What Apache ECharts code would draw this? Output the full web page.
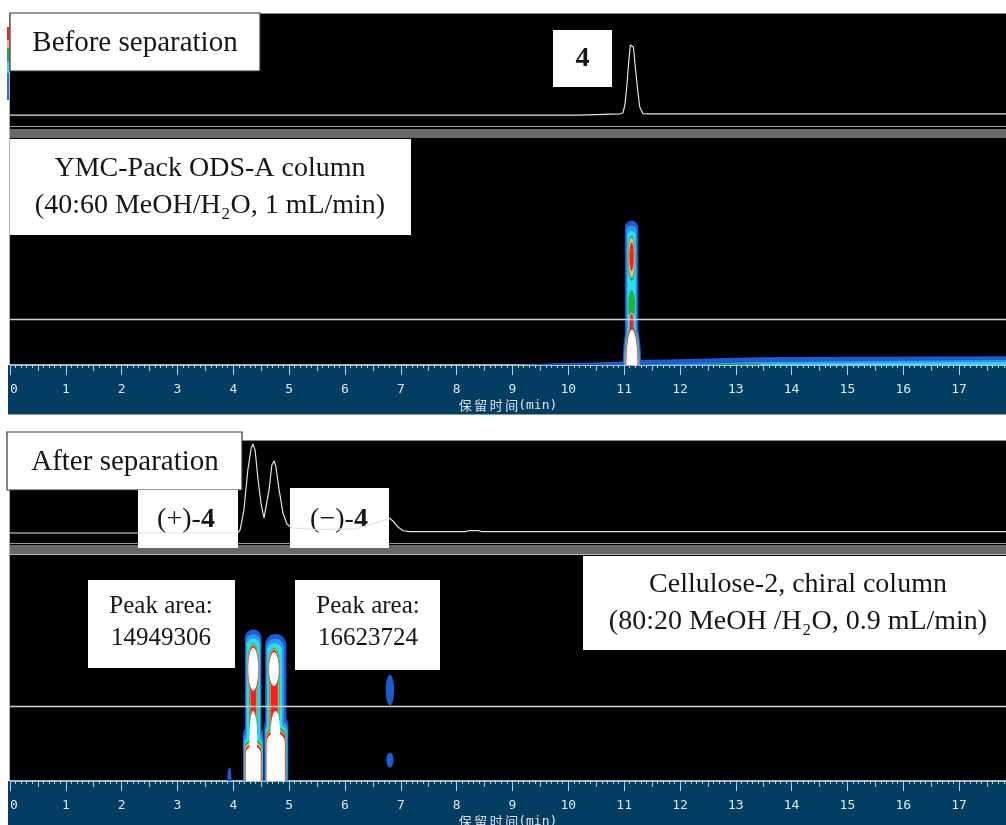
<!DOCTYPE html>
<html><head><meta charset="utf-8">
<script src="https://cdn.jsdelivr.net/npm/echarts@6/dist/echarts.min.js"></script>
<style>html,body{margin:0;padding:0;background:#fff}#c{width:1006px;height:825px}</style>
</head><body><div id="c"></div>
<script>
// ---------- data ----------
const XMAX = 17.84;                       // retention time range shown (min)
// chromatogram before separation (ODS-A): [time (min), signal]
const beforeTrace = [[0,-0.5],[10.2,-0.5],[10.22,0.6],[10.92,0.6],[10.978,1.3],[11.014,8.3],[11.05,25.8],[11.085,47.8],[11.112,60.9],[11.139,62.2],[11.166,59.2],[11.202,40.8],[11.246,19.7],[11.28,6.5],[11.336,0.8],[11.46,0.5],[17.84,0.5]];
// chromatogram after separation (Cellulose-2)
const afterTrace = [[0,-0.3],[4.08,-0.3],[4.12,2.6],[4.19,22],[4.26,60.9],[4.32,82.2],[4.35,86.1],[4.39,80.3],[4.44,53.1],[4.5,26.9],[4.55,14.3],[4.58,15.2],[4.64,41.5],[4.69,65.7],[4.73,69.6],[4.76,64.8],[4.82,41.5],[4.89,19.1],[4.96,8.4],[5.05,4.6],[5.5,3],[6.2,4],[6.6,10],[6.79,14.3],[6.86,11.4],[6.95,5.5],[7.04,1.9],[7.16,1.0],[8.15,1.0],[8.24,2.1],[8.38,2.1],[8.45,1.0],[17.84,1.0]];
// contour (time x wavelength) blobs: [time, nm low, nm high, half width (min), level, shape 0=ellipse 1=capsule]
const odsBlobs = [
  [11.134,185,327,0.12,1,1],[11.14,160,242,0.165,1,0],
  [11.134,185,323,0.092,2,1],[11.14,162,238,0.148,2,0],
  [11.134,185,318,0.074,3,1],[11.14,164,235,0.135,3,0],
  [11.134,274,314,0.066,4,0],[11.134,240,266,0.06,4,0],[11.14,166,234,0.125,4,0],
  [11.134,277,312,0.056,5,0],[11.134,236,246,0.046,5,0],[11.14,168,233,0.118,5,0],
  [11.134,283,308,0.04,6,0],[11.134,229,245,0.036,6,0],[11.14,169,233,0.112,6,0],
  [11.14,171,231,0.1,7,0]
];
// baseline drift bands of the ODS contour: [time, nm]
const odsDrift1 = [[9.0,200],[9.3,200.5],[9.72,201.5],[10.26,202],[10.89,202.9],[11.28,204.4],[12.03,205],[12.63,205.9],[13.43,206.8],[15.0,207.3],[17.84,207.6]];
const odsDrift2 = [[11.3,200],[11.6,200.8],[12.63,201.6],[13.43,202.6],[15.0,203.4],[17.84,204.4]];
const odsDrift3 = [[13.3,200],[13.43,201.2],[15.0,201.8],[17.84,202.4]];
const odsDrift4 = [[12.5,200],[12.55,200.9],[13.4,200.9],[13.45,200]];
const chiralBlobs = [
  // (+)-4
  [4.357,185,334,0.148,1,1],[4.357,185,250,0.185,1,1],
  [4.357,185,330,0.132,2,1],[4.357,185,245,0.175,2,1],
  [4.357,185,326,0.117,3,1],[4.357,185,240,0.165,3,1],
  [4.357,275,322,0.108,4,0],[4.357,238,286,0.075,4,1],[4.357,185,237,0.156,4,1],
  [4.357,276,321,0.103,5,0],[4.357,239,285,0.06,5,1],[4.357,185,235,0.15,5,1],
  [4.357,277,320,0.098,6,0],[4.357,240,284,0.05,6,1],[4.357,185,233,0.144,6,1],
  [4.357,280,318,0.09,7,0],[4.357,185,231,0.134,7,1],[4.357,212,262,0.07,7,0],
  // (-)-4
  [4.76,185,330,0.19,1,1],[4.77,185,260,0.215,1,1],
  [4.748,185,326,0.158,2,1],[4.77,185,255,0.205,2,1],
  [4.74,185,322,0.132,3,1],[4.765,185,251,0.193,3,1],
  [4.728,280,318,0.108,4,0],[4.733,240,292,0.095,4,1],[4.762,185,248,0.186,4,1],
  [4.728,281,317,0.1,5,0],[4.733,242,290,0.08,5,1],[4.762,185,246,0.18,5,1],
  [4.728,282,316,0.097,6,0],[4.733,244,288,0.065,6,1],[4.762,185,245,0.175,6,1],
  [4.728,284,314,0.088,7,0],[4.76,185,242.5,0.164,7,1],[4.755,222,262,0.085,7,0],
  // minor
  [6.805,267,294,0.075,1,0],[6.805,212,225,0.065,1,0],[3.93,196,212,0.035,1,0]
];
const detectWavelengths = [240, 266];      // nm, top and bottom contour
const levelColors = [null,'#1d5bd0','#2b97f0','#2adcf0','#1cb434','#f2b676','#ff1e1e','#ffffff'];

// ---------- chart ----------
const chart = echarts.init(document.getElementById('c'), null, {renderer:'canvas'});
const byLevel = a => a.slice().sort((p,q)=>p[4]-q[4]);

function renderBlob(params, api){
  const t=api.value(0), lo=api.value(1), hi=api.value(2), hw=api.value(3), lev=api.value(4), shp=api.value(5);
  const c = api.coord([t,(lo+hi)/2]);
  const sz = api.size([hw*2, hi-lo]);
  const w=sz[0], h=sz[1], fill=levelColors[lev];
  if (shp===1) return {type:'rect', shape:{x:c[0]-w/2,y:c[1]-h/2,width:w,height:h,r:w/2}, style:{fill:fill}};
  const pts=[];
  for(let i=0;i<48;i++){const a=i/48*Math.PI*2;pts.push([c[0]+w/2*Math.cos(a), c[1]+h/2*Math.sin(a)]);}
  return {type:'polygon', shape:{points:pts}, style:{fill:fill}};
}

const tickColor = '#b9cad6';
const labelColor = '#dbe6ee';
function mainX(gi){
  return {gridIndex:gi, type:'value', min:0, max:XMAX, interval:1,
    axisLine:{show:true, lineStyle:{color:'#e8e8e8', width:1.5}},
    axisTick:{show:true, length:10, lineStyle:{color:tickColor, width:1}},
    minorTick:{show:true, splitNumber:10, length:3, lineStyle:{color:tickColor, width:1}},
    splitLine:{show:false}, minorSplitLine:{show:false},
    axisLabel:{color:labelColor, fontFamily:'DejaVu Sans Mono', fontSize:13, margin:18, alignMinLabel:'left', showMaxLabel:false},
    name:'{c|保}{g| }{c|留}{g| }{c|时}{g| }{c|间}{m|(min)}', nameLocation:'middle', nameGap:34,
    nameTextStyle:{color:labelColor, rich:{c:{fontFamily:'Noto Sans CJK SC', fontSize:13, color:labelColor}, g:{fontSize:9}, m:{fontFamily:'DejaVu Sans Mono', fontSize:13, color:labelColor}}}
  };
}
function halfX(gi){
  return {gridIndex:gi, type:'value', min:0, max:XMAX, interval:0.5,
    axisLine:{show:false}, axisTick:{show:true, length:6, lineStyle:{color:tickColor, width:1}},
    axisLabel:{show:false}, splitLine:{show:false}};
}
function hiddenX(gi){ return {gridIndex:gi, type:'value', min:0, max:XMAX, show:false}; }
function hiddenY(gi,min,max){ return {gridIndex:gi, type:'value', min:min, max:max, show:false}; }

const serif = 'Liberation Serif';
function box(x,y,w,h,text,cx,cy,opt){
  opt = opt||{};
  const fs = opt.fs||28;
  const children = [{type:'rect', shape:{x:x,y:y,width:w,height:h}, style:{fill:'#fff', stroke:opt.border?'#333':null, lineWidth:opt.border?1.2:0}}];
  children.push({type:'text', style:{text:text, x:cx, y:cy, align:'center', verticalAlign:'middle', fontFamily:serif, fontSize:fs, lineHeight:opt.lh||37, fill:'#161616', fontWeight:opt.bold?'bold':'normal',
    rich:{b:{fontFamily:serif, fontSize:fs, fontWeight:'bold', fill:'#161616'}}}});
  return {type:'group', z:100, children:children};
}

const bg = [];
function rect(x,y,w,h,color){ bg.push({type:'rect', z:-10, silent:true, shape:{x:x,y:y,width:w,height:h}, style:{fill:color}}); }
function hline(x1,x2,y,color){ bg.push({type:'line', z:-9, silent:true, shape:{x1:x1,y1:y,x2:x2,y2:y}, style:{stroke:color, lineWidth:1}}); }
function vline(x,y1,y2,color){ bg.push({type:'line', z:-9, silent:true, shape:{x1:x,y1:y1,x2:x,y2:y2}, style:{stroke:color, lineWidth:1}}); }
// top panel
rect(10,13,996,116,'#000'); hline(10,1006,13.5,'#8a8a8a'); hline(10,1006,126.5,'#9a9a9a');
rect(10,129,996,9,'#686868'); rect(10,138,996,227,'#000'); rect(8,365,998,49.5,'#033e62');
vline(9.5,13,365,'#b4b4b4');
[['#ff2020',27,40],['#f2b070',40,48],['#20b040',48,62],['#30d8f0',62,73],['#2a70e0',73,100]].forEach(s=>rect(7,s[1],2.5,s[2]-s[1],s[0]));
// bottom panel
rect(10,440,996,105,'#000'); hline(10,1006,440.5,'#8a8a8a'); hline(10,1006,543.5,'#9a9a9a');
rect(10,545,996,9.5,'#686868'); rect(10,555,996,226,'#000'); rect(8,781,998,44,'#033e62');
vline(9.5,440,781,'#b4b4b4');

const boxes = [
  box(10,13,250,58,'Before separation',135,43.5,{border:true,fs:29}),
  box(553,30,59,57,'4',582.5,59,{bold:true}),
  box(10,139,401,96,'YMC-Pack ODS-A column\n(40:60 MeOH/H₂O, 1 mL/min)',210,187,{lh:37}),
  box(7,432,235,58,'After separation',125,462.5,{border:true,fs:29}),
  box(138,490,100,58,'(+)-{b|4}',186,520),
  box(290,488,99,60,'(−)-{b|4}',339,520),
  box(88,580,147,88,'Peak area:\n14949306',161,622.5,{fs:25,lh:32}),
  box(295,580,145,90,'Peak area:\n16623724',368,622.5,{fs:25,lh:32}),
  box(583,556,423,94,'Cellulose-2, chiral column\n(80:20 MeOH /H₂O, 0.9 mL/min)',798,603.5,{lh:37})
];

function drift(data, lev){
  return {type:'line', xAxisIndex:1, yAxisIndex:1, data:data, symbol:'none', silent:true, z:1,
    lineStyle:{width:0, color:levelColors[lev]}, itemStyle:{color:levelColors[lev]},
    areaStyle:{color:levelColors[lev], opacity:1, origin:'start'}};
}
function detectLine(ax, wl){
  return {type:'line', xAxisIndex:ax, yAxisIndex:ax, data:[[0,wl],[XMAX,wl]], symbol:'none', silent:true, z:5,
    lineStyle:{color:'#d4d4d4', width:1.5}, itemStyle:{color:'#d4d4d4'}};
}
function g(top,h){ return {left:10, top:top, width:996, height:h, outerBoundsMode:'none', containLabel:false}; }

chart.setOption({
  animation:false,
  backgroundColor:'#fff',
  grid:[g(13,114), g(138,227), g(138,227), g(440,103), g(555,226), g(555,226)],
  xAxis:[hiddenX(0), mainX(1), halfX(2), hiddenX(3), mainX(4), halfX(5)],
  yAxis:[hiddenY(0,-11,89), hiddenY(1,200,400), hiddenY(2,200,400), hiddenY(3,-10,90), hiddenY(4,200,400), hiddenY(5,200,400)],
  graphic:{elements: bg.concat(boxes)},
  series:[
    {type:'line', xAxisIndex:0, yAxisIndex:0, data:beforeTrace, symbol:'none', silent:true, lineStyle:{color:'#e4e4e4', width:1.2}, itemStyle:{color:'#e4e4e4'}},
    drift(odsDrift1,1), drift(odsDrift2,2), drift(odsDrift3,3), drift(odsDrift4,4),
    {type:'custom', xAxisIndex:1, yAxisIndex:1, data:byLevel(odsBlobs), renderItem:renderBlob, clip:true, silent:true, z:2},
    detectLine(1, detectWavelengths[0]),
    {type:'line', xAxisIndex:3, yAxisIndex:3, data:afterTrace, symbol:'none', silent:true, lineStyle:{color:'#e4e4e4', width:1.2}, itemStyle:{color:'#e4e4e4'}},
    {type:'custom', xAxisIndex:4, yAxisIndex:4, data:byLevel(chiralBlobs), renderItem:renderBlob, clip:true, silent:true, z:2},
    detectLine(4, detectWavelengths[1])
  ]
});
</script></body></html>
